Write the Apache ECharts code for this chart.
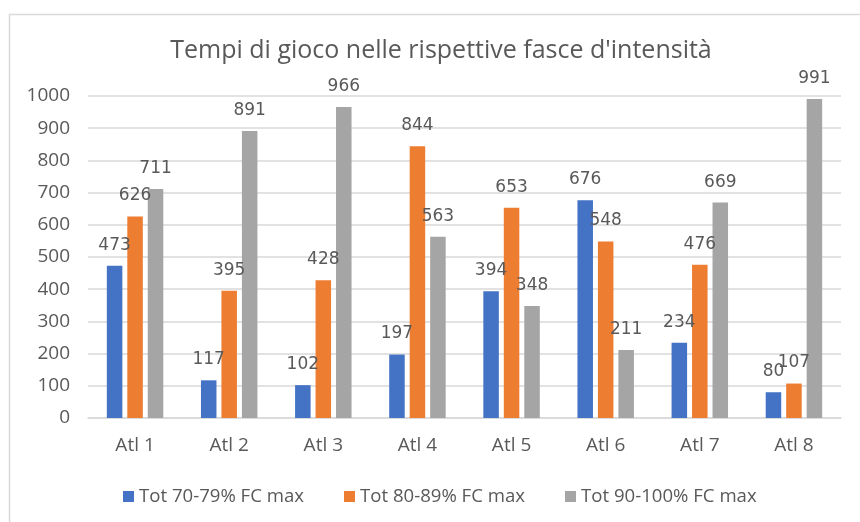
<!DOCTYPE html>
<html>
<head>
<meta charset="utf-8">
<script src="https://cdn.jsdelivr.net/npm/echarts@6/dist/echarts.min.js"></script>
<style>
  html, body { margin: 0; padding: 0; background: #ffffff; }
  #chart { width: 860px; height: 522px; }
</style>
</head>
<body>
<div id="chart"></div>
<script>
// Athletes and time spent (seconds) in each heart-rate band
const athletes = ['Atl 1', 'Atl 2', 'Atl 3', 'Atl 4', 'Atl 5', 'Atl 6', 'Atl 7', 'Atl 8'];
const band70 = [473, 117, 102, 197, 394, 676, 234, 80];
const band80 = [626, 395, 428, 844, 653, 548, 476, 107];
const band90 = [711, 891, 966, 563, 348, 211, 669, 991];
const seriesNames = ['Tot 70-79% FC max', 'Tot 80-89% FC max', 'Tot 90-100% FC max'];
const seriesColors = ['#4472C4', '#ED7D31', '#A5A5A5'];

const textColor = '#595959';
const gridColor = '#d9d9d9';

function barSeries(name, data, color) {
  return {
    name: name,
    type: 'bar',
    data: data,
    itemStyle: { color: color },
    barGap: '32%',
    barCategoryGap: '40%',
    label: {
      show: true,
      position: 'top',
      distance: 12,
      color: textColor,
      fontFamily: 'DejaVu Sans',
      fontSize: 17
    }
  };
}

const chart = echarts.init(document.getElementById('chart'), null, { renderer: 'canvas' });
chart.setOption({
  backgroundColor: '#ffffff',
  animation: false,
  graphic: [{
    type: 'rect',
    z: -10,
    shape: { x: 9.5, y: 14.5, width: 900, height: 600 },
    style: { fill: '#ffffff', stroke: gridColor, lineWidth: 1.5 }
  }],
  title: {
    text: "Tempi di gioco nelle rispettive fasce d'intensità",
    left: 436,
    textAlign: 'center',
    top: 33,
    textStyle: {
      fontFamily: 'Open Sans',
      fontWeight: 'normal',
      fontSize: 25,
      color: textColor
    }
  },
  legend: {
    data: seriesNames,
    left: 118,
    top: 482,
    icon: 'rect',
    itemWidth: 11,
    itemHeight: 11,
    itemGap: 40,
    textStyle: {
      fontFamily: 'Open Sans',
      fontSize: 18.6,
      color: textColor
    }
  },
  grid: { left: 88, right: 19, top: 96, bottom: 104, containLabel: false },
  xAxis: {
    type: 'category',
    data: athletes,
    axisLine: { lineStyle: { color: gridColor, width: 1.5 } },
    axisTick: { show: false },
    axisLabel: {
      margin: 18,
      fontFamily: 'Open Sans',
      fontSize: 19,
      color: textColor
    }
  },
  yAxis: {
    type: 'value',
    min: 0,
    max: 1000,
    interval: 100,
    axisLine: { show: false },
    axisTick: { show: false },
    splitLine: { lineStyle: { color: gridColor, width: 1.5 } },
    axisLabel: {
      margin: 18,
      fontFamily: 'Open Sans',
      fontSize: 19,
      color: textColor,
      formatter: function (v) { return String(v); }
    }
  },
  series: [
    barSeries(seriesNames[0], band70, seriesColors[0]),
    barSeries(seriesNames[1], band80, seriesColors[1]),
    barSeries(seriesNames[2], band90, seriesColors[2])
  ]
});
</script>
</body>
</html>
